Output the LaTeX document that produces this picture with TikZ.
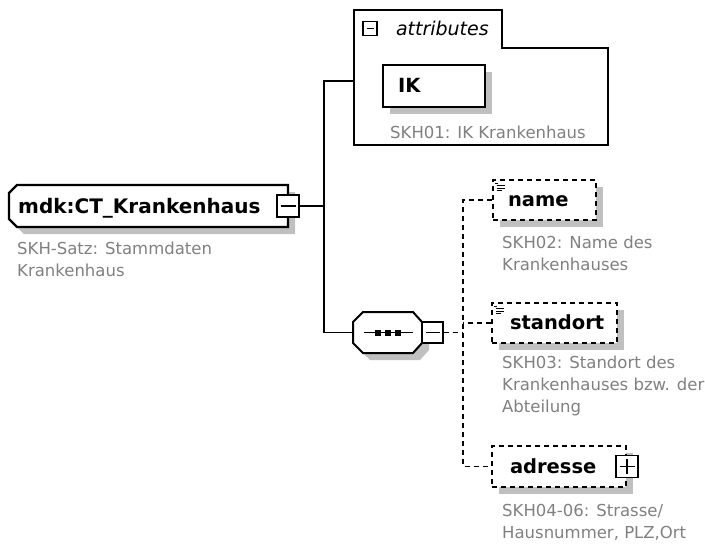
\documentclass[tikz,border=0pt]{standalone}
\usepackage{fontspec}
\setmainfont{DejaVu Sans}
\usepackage{tikz}
\usetikzlibrary{positioning,shadows}
\definecolor{xsedge}{RGB}{0,0,0}
\definecolor{xsshade}{RGB}{192,192,192}
\definecolor{xsnote}{RGB}{128,128,128}
\tikzset{
  elem/.style={
    draw=xsedge, fill=white, line width=2pt, align=left,
    font=\fontsize{19.5}{23}\selectfont\bfseries,
    text height=13pt, text depth=0pt,
    drop shadow={shadow xshift=7pt, shadow yshift=-7pt, fill=xsshade, opacity=1}
  },
  optelem/.style={elem, dash pattern=on 5pt off 4pt},
  headtxt/.style={inner sep=0pt, font=\fontsize{20}{24}\selectfont\bfseries},
  grptxt/.style={inner sep=0pt, font=\fontsize{19}{23}\selectfont\itshape},
  note/.style={
    anchor=north west, inner sep=0pt, align=left, text=xsnote,
    font=\fontsize{16.5}{22}\selectfont
  },
  conn/.style={draw=xsedge, line width=1.8pt},
  dconn/.style={conn, dash pattern=on 5pt off 4pt},
  togbox/.style={
    draw=xsedge, fill=white, line width=1.6pt, minimum size=#1, inner sep=0pt
  },
  togminus/.style={togbox=#1, path picture={
    \draw[line width=1.6pt] ([xshift=3.5pt]path picture bounding box.west)
      -- ([xshift=-3.5pt]path picture bounding box.east);}},
  togplus/.style={togbox=#1, path picture={
    \draw[line width=1.6pt] ([xshift=3.5pt]path picture bounding box.west)
      -- ([xshift=-3.5pt]path picture bounding box.east);
    \draw[line width=1.6pt] ([yshift=-3.5pt]path picture bounding box.north)
      -- ([yshift=3.5pt]path picture bounding box.south);}},
  docicon/.pic={
    \draw[xsedge, line width=1pt] (0,0) -- (3,0) (1.5,2.6) -- (10,2.6)
      (1.5,5.2) -- (10,5.2) (1.5,7.8) -- (7,7.8);
  }
}

\begin{document}
\begin{tikzpicture}[x=1pt, y=-1pt]
  \useasboundingbox (0,0) rectangle (705,544);

  \fill[xsshade, shift={(7,7)}] (17,185) -- (288,185) -- (288,227) -- (17,227)
    -- (9,219) -- (9,193) -- cycle;
  \draw[line width=2.4pt, fill=white] (17,185) -- (288,185) -- (288,227) -- (17,227)
    -- (9,219) -- (9,193) -- cycle;
  \node[headtxt, anchor=base west] (root) at (18,213) {mdk:CT\_Krankenhaus};
  \node[togminus=22pt] (rootmin) at (288,206) {};
  \node[note] (rootnote) at (17,242) {SKH-Satz: Stammdaten\\Krankenhaus};

  \draw[line width=1.8pt, fill=white] (354,10) -- (502,10) -- (502,48) -- (608,48)
    -- (608,145) -- (354,145) -- cycle;
  \node[togminus=14pt] (attrmin) at (370,28.5) {};
  \node[grptxt, right=18pt of attrmin] (attrtxt) {attributes};
  \node[elem, minimum width=102pt, minimum height=42pt, text width=72pt,
    inner xsep=15pt] (ik) at (434,86) {IK};
  \node[note] (iknote) at (390,126) {SKH01: IK Krankenhaus};

  \fill[xsshade, shift={(7,7)}] (363,312) -- (413,312) -- (422,322) -- (422,343)
    -- (413,353) -- (363,353) -- (353,343) -- (353,322) -- cycle;
  \draw[line width=2pt, fill=white] (363,312) -- (413,312) -- (422,322) -- (422,343)
    -- (413,353) -- (363,353) -- (353,343) -- (353,322) -- cycle;
  \draw[line width=1.6pt] (364,332.5) -- (413,332.5);
  \foreach \dx in {378,388,398}
    \fill (\dx,332.5) ++(-3,-3) rectangle ++(6,6);
  \coordinate (seq) at (353,332.5);
  \node[togminus=21pt] (seqmin) at (432.5,332.5) {};

  \node[optelem, minimum width=103pt, minimum height=40pt, text width=73pt,
    inner xsep=15pt] (name) at (544.5,200) {name};
  \pic at (495,183) {docicon};
  \node[note] (namenote) at (502,236) {SKH02: Name des\\Krankenhauses};

  \node[optelem, minimum width=125pt, minimum height=40pt, text width=89pt,
    inner xsep=18pt] (standort) at (554.5,323) {standort};
  \pic at (494,306) {docicon};
  \node[note] (standortnote) at (502,356)
    {SKH03: Standort des\\Krankenhauses bzw. der\\Abteilung};

  \node[optelem, minimum width=134pt, minimum height=41pt, text width=98pt,
    inner xsep=18pt] (adresse) at (559,466.5) {adresse};
  \node[togplus=22pt] (adrplus) at (adresse.east) {};
  \node[note] (adressenote) at (502,504) {SKH04-06: Strasse/\\Hausnummer, PLZ,Ort};

  \coordinate (trunk) at (324,206);
  \coordinate (attrin) at (354,81);
  \coordinate (fork) at (463,332.5);
  \draw[conn] (rootmin.east) -- (trunk);
  \draw[conn] (attrin) -| (trunk) |- (seq);
  \draw[dconn] (seqmin.east) -- (fork);
  \draw[dconn] (name.west) -| (fork) |- (adresse.west);
  \draw[dconn] (standort.west) -- (fork |- standort.west);
\end{tikzpicture}
\end{document}
